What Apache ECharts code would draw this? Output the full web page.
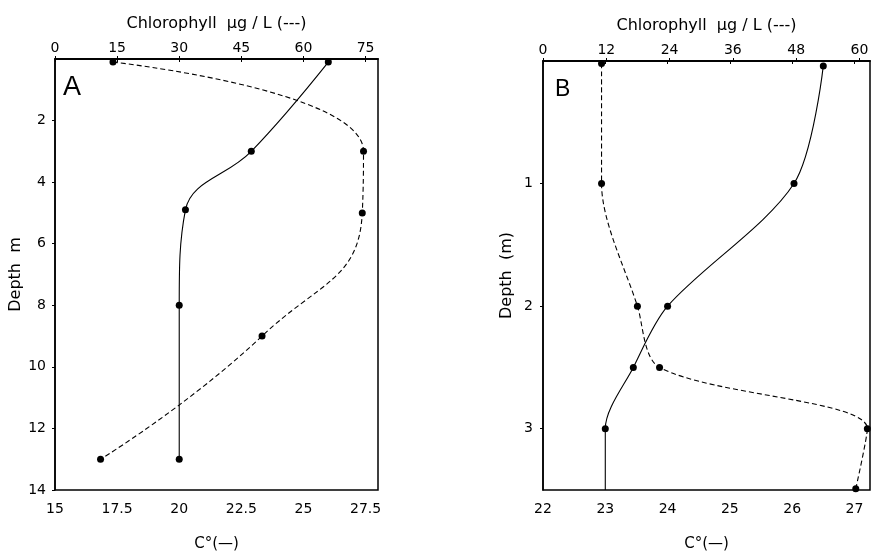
<!DOCTYPE html>
<html>
<head>
<meta charset="utf-8">
<script src="https://cdn.jsdelivr.net/npm/echarts@6/dist/echarts.min.js"></script>
<style>
html,body{margin:0;padding:0;background:#fff;}
#chart{width:872px;height:557px;}
</style>
</head>
<body>
<div id="chart"></div>
<script>
// Panel A data
const depthA_chl = [0.1, 3, 5, 9, 13];
const chlA       = [14, 74.5, 74.2, 50, 11];
const depthA_temp = [0.1, 3, 4.9, 8, 13];
const tempA       = [26, 22.9, 20.25, 20, 20];
// Panel B data
const depthB_chl = [0.02, 1, 2, 2.5, 3, 3.49];
const chlB       = [11.1, 11.1, 17.9, 22.1, 61.5, 59.3];
const depthB_temp = [0.04, 1, 2, 2.5, 3, 3.5];
const tempB       = [26.5, 26.03, 24.0, 23.45, 23.0, 23.0];
const tempB_marked = [true, true, true, true, true, false];

const FONT = "'DejaVu Sans', 'Liberation Sans', Arial, sans-serif";
const axisLineStyle = {show: true, lineStyle: {color: '#000', width: 1.5}};
const tickStyle = {show: true, length: 3, inside: false, lineStyle: {color: '#000'}};
const labelStyle = {color: '#000', fontFamily: FONT, fontSize: 14};

function xAxisDef(grid, pos, min, max, interval, name, nameGap, margin, nameSize) {
  return {
    type: 'value', gridIndex: grid, position: pos, min: min, max: max, interval: interval,
    name: name, nameLocation: 'middle', nameGap: nameGap,
    nameTextStyle: {color: '#000', fontFamily: FONT, fontSize: nameSize},
    axisLine: axisLineStyle, axisTick: tickStyle, splitLine: {show: false},
    axisLabel: Object.assign({showMaxLabel: false, margin: margin}, labelStyle)
  };
}
function yAxisDef(grid, min, max, interval, name, nameGap, margin) {
  return {
    type: 'value', gridIndex: grid, inverse: true, min: min, max: max, interval: interval,
    name: name, nameLocation: 'middle', nameGap: nameGap, nameRotate: 90,
    nameTextStyle: {color: '#000', fontFamily: FONT, fontSize: 16},
    axisLine: axisLineStyle, axisTick: tickStyle, splitLine: {show: false},
    axisLabel: Object.assign({showMinLabel: false, showMaxLabel: (max % interval === 0), margin: margin}, labelStyle)
  };
}
function pairs(xs, ys) { return xs.map((x, i) => [x, ys[i]]); }

const dashed = {color: '#000', width: 1.1, type: [5, 3]};
const solid = {color: '#000', width: 1.1};

const option = {
  backgroundColor: '#fff',
  animation: false,
  title: [
    {text: 'A', left: 58, top: 69, textStyle: {fontFamily: "'Liberation Sans', Arial, sans-serif", fontSize: 27, fontWeight: 'normal', color: '#000'}},
    {text: 'B', left: 550, top: 73, textStyle: {fontFamily: "'Liberation Sans', Arial, sans-serif", fontSize: 23, fontWeight: 'normal', color: '#000'}}
  ],
  grid: [
    {left: 55, top: 59, width: 323, height: 436, show: true, borderColor: '#000', borderWidth: 1.5},
    {left: 543, top: 61, width: 327, height: 435, show: true, borderColor: '#000', borderWidth: 1.5}
  ],
  xAxis: [
    xAxisDef(0, 'bottom', 15, 28, 2.5, 'C°(—)', 47, 12, 15),
    xAxisDef(0, 'top', 0, 78, 15, 'Chlorophyll  µg / L (---)', 27, 4, 16),
    xAxisDef(1, 'bottom', 22, 27.25, 1, 'C°(—)', 47, 12, 15),
    xAxisDef(1, 'top', 0, 62, 12, 'Chlorophyll  µg / L (---)', 27, 4, 16)
  ],
  yAxis: [
    yAxisDef(0, 0, 14, 2, 'Depth  m', 28, 9),
    yAxisDef(1, 0, 3.5, 1, 'Depth  (m)', 28, 10)
  ],
  series: [
    {type: 'line', xAxisIndex: 1, yAxisIndex: 0, data: pairs(chlA, depthA_chl), smooth: 0.5,
     lineStyle: dashed, symbol: 'circle', symbolSize: 7, itemStyle: {color: '#000'}},
    {type: 'line', xAxisIndex: 0, yAxisIndex: 0, data: pairs(tempA, depthA_temp), smooth: 0.4,
     lineStyle: solid, symbol: 'circle', symbolSize: 7, itemStyle: {color: '#000'}},
    {type: 'line', xAxisIndex: 3, yAxisIndex: 1, data: pairs(chlB, depthB_chl), smooth: 0.3,
     lineStyle: dashed, symbol: 'circle', symbolSize: 7, itemStyle: {color: '#000'}},
    {type: 'line', xAxisIndex: 2, yAxisIndex: 1,
     data: tempB.map((t, i) => tempB_marked[i] ? [t, depthB_temp[i]] : {value: [t, depthB_temp[i]], symbol: 'none'}),
     smooth: 0.3, lineStyle: solid, symbol: 'circle', symbolSize: 7, itemStyle: {color: '#000'}}
  ]
};

const chart = echarts.init(document.getElementById('chart'), null, {renderer: 'canvas'});
chart.setOption(option);
</script>
</body>
</html>
